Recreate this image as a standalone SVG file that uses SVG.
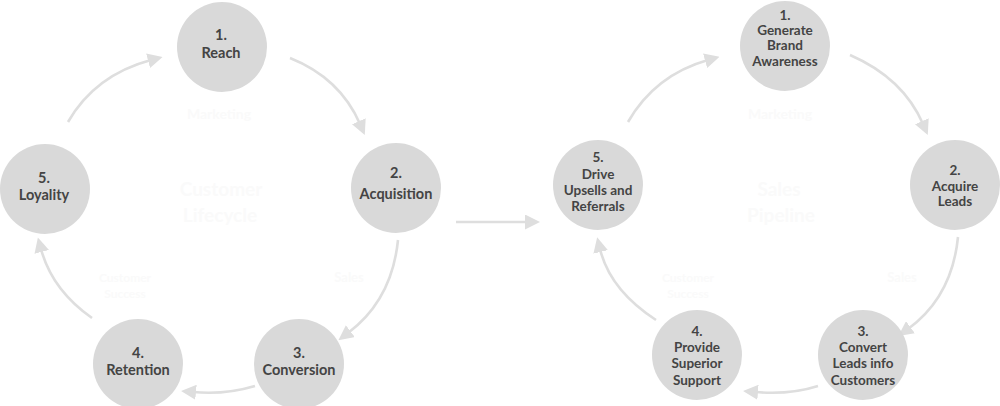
<svg xmlns="http://www.w3.org/2000/svg" width="1000" height="406" viewBox="0 0 1000 406">
<style>
.node circle{fill:#d9d9d9}
.lbl{font-family:Lato,"Liberation Sans",sans-serif;font-weight:bold;font-size:13.5px;fill:#444;text-anchor:middle}
.big{font-size:14.5px}
.faint{font-family:Lato,"Liberation Sans",sans-serif;font-weight:bold;fill:#fafafa;text-anchor:middle}
.conn path{fill:none;stroke:#dedede;stroke-width:2.6;marker-end:url(#ah)}
</style>
<defs>
<marker id="ah" markerUnits="userSpaceOnUse" markerWidth="15" markerHeight="15" viewBox="0 0 15 15" refX="3" refY="7.5" orient="auto">
<path d="M0,0 L15,7.5 L0,15 z" fill="#dedede"/>
</marker>
</defs>
<rect width="1000" height="406" fill="#fff"/>
<g id="background-labels">
<text class="faint" x="219" y="119" font-size="14">Marketing</text>
<text class="faint" x="221" y="196" font-size="19">Customer</text>
<text class="faint" x="220" y="222" font-size="19">Lifecycle</text>
<text class="faint" x="125" y="282" font-size="12">Customer</text>
<text class="faint" x="125" y="298" font-size="12">Success</text>
<text class="faint" x="349" y="282" font-size="13">Sales</text>
<text class="faint" x="780" y="119" font-size="14">Marketing</text>
<text class="faint" x="779" y="196" font-size="19">Sales</text>
<text class="faint" x="781" y="222" font-size="19">Pipeline</text>
<text class="faint" x="688" y="282" font-size="12">Customer</text>
<text class="faint" x="688" y="298" font-size="12">Success</text>
<text class="faint" x="902" y="282" font-size="13">Sales</text>
</g>
<g class="conn" id="connectors">
<path d="M290,58 Q340,78 360,124"/>
<path d="M398,240 Q392,300 348,333"/>
<path d="M255,386 Q225,395 193,392"/>
<path d="M92,318 Q52,290 41,249"/>
<path d="M68,122 Q95,75 151,60"/>
<path d="M850,55 Q903,78 923,124"/>
<path d="M958,237 Q952,297 908,329"/>
<path d="M818,386 Q790,395 755,392"/>
<path d="M656,320 Q610,290 600,249"/>
<path d="M628,122 Q655,75 708,60"/>
<path d="M456,222 L528,222"/>
</g>
<g class="node" id="n-reach"><circle cx="222" cy="47" r="45"/><text class="lbl big" x="221" y="40">1.</text><text class="lbl big" x="221" y="58">Reach</text></g>
<g class="node" id="n-acquisition"><circle cx="396" cy="188" r="45"/><text class="lbl big" x="396" y="178">2.</text><text class="lbl big" x="396" y="199">Acquisition</text></g>
<g class="node" id="n-conversion"><circle cx="299" cy="364" r="45"/><text class="lbl big" x="299" y="358">3.</text><text class="lbl big" x="299" y="375">Conversion</text></g>
<g class="node" id="n-retention"><circle cx="138" cy="364" r="45"/><text class="lbl big" x="138" y="358">4.</text><text class="lbl big" x="138" y="375">Retention</text></g>
<g class="node" id="n-loyality"><circle cx="45" cy="189" r="45"/><text class="lbl big" x="44" y="183">5.</text><text class="lbl big" x="44" y="200">Loyality</text></g>
<g class="node" id="n-brand"><circle cx="785" cy="46" r="45"/><text class="lbl" x="785" y="20">1.</text><text class="lbl" x="785" y="35">Generate</text><text class="lbl" x="785" y="50">Brand</text><text class="lbl" x="785" y="66">Awareness</text></g>
<g class="node" id="n-leads"><circle cx="955" cy="185" r="45"/><text class="lbl" x="955" y="175">2.</text><text class="lbl" x="955" y="191">Acquire</text><text class="lbl" x="955" y="206">Leads</text></g>
<g class="node" id="n-convert"><circle cx="863" cy="355" r="45"/><text class="lbl" x="863" y="336">3.</text><text class="lbl" x="863" y="352">Convert</text><text class="lbl" x="863" y="368">Leads info</text><text class="lbl" x="863" y="385">Customers</text></g>
<g class="node" id="n-support"><circle cx="697" cy="355" r="45"/><text class="lbl" x="697" y="336">4.</text><text class="lbl" x="697" y="352">Provide</text><text class="lbl" x="697" y="368">Superior</text><text class="lbl" x="697" y="385">Support</text></g>
<g class="node" id="n-upsell"><circle cx="598" cy="185" r="45"/><text class="lbl" x="598" y="162">5.</text><text class="lbl" x="598" y="179">Drive</text><text class="lbl" x="598" y="195">Upsells and</text><text class="lbl" x="598" y="211">Referrals</text></g>
</svg>
